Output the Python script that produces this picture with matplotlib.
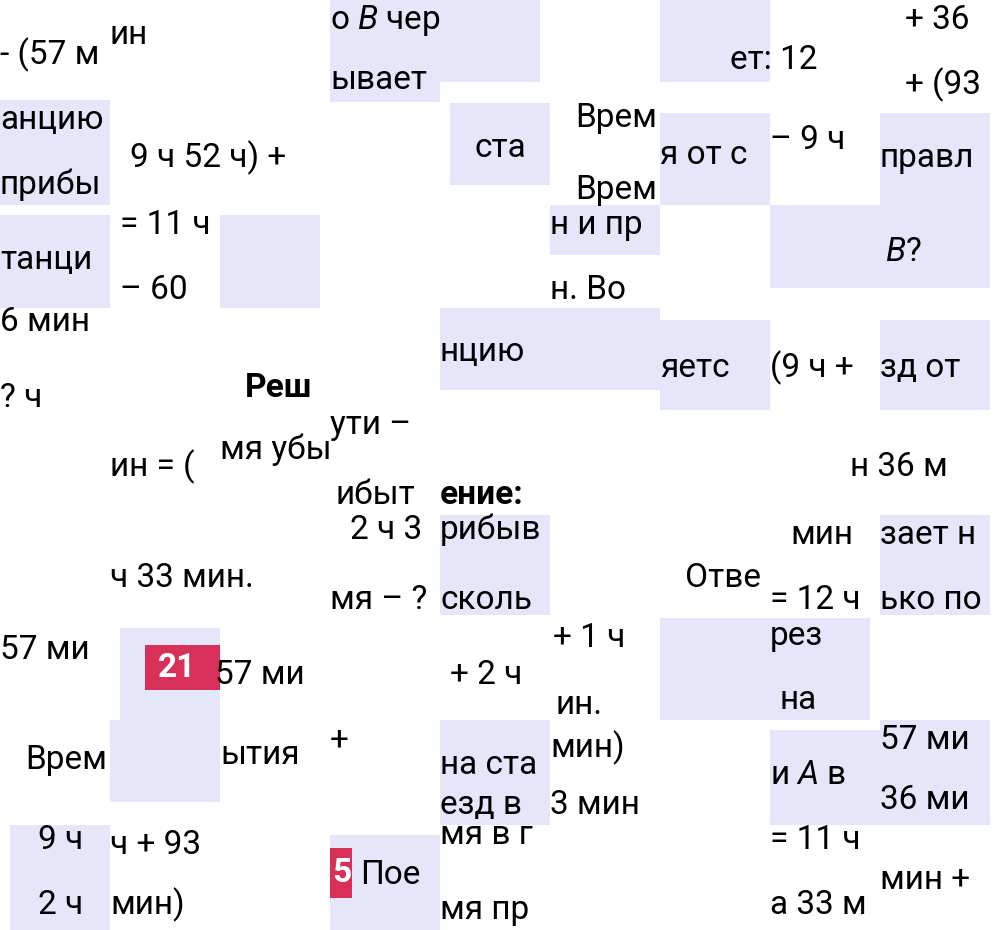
import matplotlib
matplotlib.use("Agg")
import matplotlib.pyplot as plt
from matplotlib.patches import Rectangle

# lavender tiles: x, y, w, h (pixels, top-left origin)
tiles = [
    (0, 100, 110, 105), (0, 215, 110, 93), (330, 0, 110, 102), (440, 0, 100, 82),
    (660, 0, 110, 82), (450, 103, 100, 82), (660, 113, 110, 92), (220, 215, 100, 93),
    (550, 205, 110, 50), (770, 205, 220, 83), (440, 308, 220, 82), (660, 320, 110, 90),
    (880, 320, 110, 90), (440, 515, 110, 100), (880, 515, 110, 100), (120, 628, 100, 95),
    (660, 618, 210, 102), (110, 720, 110, 82), (440, 720, 110, 105), (770, 730, 110, 95),
    (880, 720, 110, 105), (10, 825, 100, 105), (330, 835, 110, 95), (880, 113, 110, 92),
]
red_tiles = [(145, 645, 75, 45), (330, 848, 22, 50)]

# text fragments: x, y(center), text, bold
fragments = [
    (0, 55, "- (57 м", False), (110, 35, "ин", False), (330, 20, "о $\\it{B}$ чер", False),
    (330, 80, "ывает", False), (730, 60, "ет: 12", False), (905, 20, "+ 36", False),
    (905, 85, "+ (93", False), (0, 120, "анцию", False), (0, 185, "прибы", False),
    (130, 158, "9 ч 52 ч) +", False), (475, 148, "ста", False), (575, 118, "Врем", False),
    (660, 155, "я от с", False), (770, 140, "– 9 ч", False), (880, 158, "правл", False),
    (575, 190, "Врем", False), (120, 225, "= 11 ч", False), (0, 260, "танци", False),
    (550, 225, "н и пр", False), (885, 252, "$\\it{B}$?", False), (120, 290, "– 60", False),
    (0, 322, "6 мин", False), (550, 290, "н. Во", False), (440, 352, "нцию", False),
    (660, 368, "яетс", False), (770, 368, "(9 ч +", False), (880, 368, "зд от", False),
    (0, 398, "? ч", False), (245, 388, "Реш", True), (330, 425, "ути –", False),
    (110, 467, "ин = (", False), (220, 450, "мя убы", False), (850, 467, "н 36 м", False),
    (335, 495, "ибыт", False), (440, 495, "ение:", True), (350, 530, "2 ч 3", False),
    (440, 530, "рибыв", False), (790, 535, "мин", False), (880, 535, "зает н", False),
    (110, 578, "ч 33 мин.", False), (330, 600, "мя – ?", False), (440, 600, "сколь", False),
    (685, 578, "Отве", False), (770, 600, "= 12 ч", False), (880, 600, "ько по", False),
    (0, 650, "57 ми", False), (553, 638, "+ 1 ч", False), (770, 636, "рез", False),
    (215, 675, "57 ми", False), (450, 675, "+ 2 ч", False), (555, 705, "ин.", False),
    (780, 700, "на", False), (330, 740, "+", False), (440, 765, "на ста", False),
    (550, 748, "мин)", False), (25, 760, "Врем", False), (220, 755, "ытия", False),
    (770, 775, "и $\\it{A}$ в", False), (880, 740, "57 ми", False), (440, 805, "езд в", False),
    (550, 805, "3 мин", False), (880, 800, "36 ми", False), (38, 840, "9 ч", False),
    (110, 845, "ч + 93", False), (440, 835, "мя в г", False), (770, 840, "= 11 ч", False),
    (38, 905, "2 ч", False), (110, 905, "мин)", False), (360, 875, "Пое", False),
    (440, 910, "мя пр", False), (770, 905, "а 33 м", False), (880, 880, "мин +", False),
]

plt.rcParams["font.family"] = ["Roboto", "DejaVu Sans"]
plt.rcParams["mathtext.fontset"] = "custom"
plt.rcParams["mathtext.it"] = "Roboto:italic"
fig = plt.figure(figsize=(9.95, 9.3), dpi=100)
ax = fig.add_axes([0, 0, 1, 1])
ax.set_xlim(0, 995)
ax.set_ylim(930, 0)
ax.axis("off")

for x, y, w, h in tiles:
    ax.add_patch(Rectangle((x, y), w, h, color="#e6e6fa", lw=0))
for x, y, w, h in red_tiles:
    ax.add_patch(Rectangle((x, y), w, h, color="#d9305a", lw=0))
ax.text(158, 668, "21", color="white", fontsize=24, fontweight="bold", va="center")
ax.text(332, 873, "5", color="white", fontsize=24, fontweight="bold", va="center")

for x, y, s, b in fragments:
    ax.text(x, y, s, fontsize=24, va="center", color="black",
            fontweight="bold" if b else "normal")

fig.savefig("out.png", dpi=100)
